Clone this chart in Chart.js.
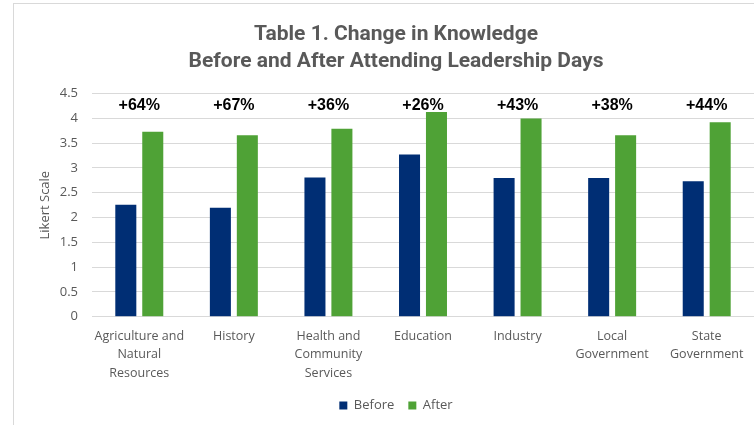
<!DOCTYPE html>
<html>
<head>
<meta charset="utf-8">
<script src="https://cdn.jsdelivr.net/npm/chart.js@4/dist/chart.umd.min.js"></script>
<style>
    body { margin: 0; background: #fff; overflow: hidden; }
    #wrap { position: relative; width: 754px; height: 425px; overflow: hidden; }
    #frame {
        position: absolute; left: 13px; top: 3px; right: -2px; bottom: -2px;
        border-left: 1px solid #d9d9d9; border-top: 1px solid #d9d9d9;
        pointer-events: none;
    }
</style>
</head>
<body>
<div id="wrap">
    <!-- the original chart runs past the right edge, so the canvas is wider than the view -->
    <canvas id="myChart" width="792" height="425"></canvas>
    <div id="frame"></div>
</div>
<script>
// chart data
const categories = [
    ['Agriculture and', 'Natural', 'Resources'],
    'History',
    ['Health and', 'Community', 'Services'],
    'Education',
    'Industry',
    ['Local', 'Government'],
    ['State', 'Government']
];
const beforeValues = [2.26, 2.20, 2.81, 3.27, 2.80, 2.80, 2.73];
const afterValues = [3.73, 3.66, 3.79, 4.13, 4.00, 3.66, 3.92];
const changeLabels = ['+64%', '+67%', '+36%', '+26%', '+43%', '+38%', '+44%'];
const yTicks = [0, 0.5, 1, 1.5, 2, 2.5, 3, 3.5, 4, 4.5];

const labelFont = "'Open Sans', sans-serif";
const gray = '#595959';

// draws the percent change above each category
const changePlugin = {
    id: 'changeLabels',
    afterDatasetsDraw(chart) {
        const { ctx, scales: { x, y } } = chart;
        ctx.save();
        ctx.font = "bold 16px 'Liberation Sans', Arial, sans-serif";
        ctx.fillStyle = '#000';
        ctx.textAlign = 'center';
        ctx.textBaseline = 'middle';
        changeLabels.forEach((txt, i) => {
            ctx.fillText(txt, x.getPixelForValue(i), y.getPixelForValue(4.25));
        });
        ctx.restore();
    }
};

const ctx = document.getElementById('myChart');

new Chart(ctx, {
    type: 'bar',
    data: {
        labels: categories,
        datasets: [{
            label: 'Before',
            data: beforeValues,
            backgroundColor: '#002E74',
            categoryPercentage: 0.57,
            barPercentage: 0.78
        }, {
            label: 'After',
            data: afterValues,
            backgroundColor: '#4FA236',
            categoryPercentage: 0.57,
            barPercentage: 0.78
        }]
    },
    options: {
        responsive: false,
        animation: false,
        layout: {
            padding: { left: 0, right: 0, top: 0, bottom: 3 }
        },
        scales: {
            x: {
                grid: { display: false },
                border: { color: '#d9d9d9' },
                ticks: {
                    color: gray,
                    font: { family: labelFont, size: 12.5, lineHeight: 1.5 },
                    maxRotation: 0,
                    autoSkip: false,
                    padding: 2
                }
            },
            y: {
                min: 0,
                max: 4.5,
                afterBuildTicks(axis) {
                    axis.ticks = yTicks.map(v => ({ value: v }));
                },
                afterFit(axis) {
                    axis.width = 92;
                },
                grid: { color: '#d9d9d9', drawTicks: false },
                border: { display: false },
                ticks: {
                    color: gray,
                    font: { family: labelFont, size: 13 },
                    padding: 14,
                    callback: v => String(v)
                },
                title: {
                    display: true,
                    text: 'Likert Scale',
                    color: gray,
                    font: { family: labelFont, size: 13 },
                    padding: { top: 37, bottom: 4 }
                }
            },
            // empty spacer on the right so the plot ends at the view edge
            spacer: {
                type: 'linear',
                position: 'right',
                grid: { display: false },
                border: { display: false },
                ticks: { display: false },
                afterFit(axis) {
                    axis.width = 38;
                }
            }
        },
        plugins: {
            title: {
                display: true,
                text: ['Table 1. Change in Knowledge', 'Before and After Attending Leadership Days'],
                color: gray,
                font: { family: "'Roboto', sans-serif", size: 21, weight: 'bold', lineHeight: 1.3 },
                padding: { top: 21, bottom: 18 }
            },
            legend: {
                position: 'bottom',
                labels: {
                    color: gray,
                    font: { family: labelFont, size: 13 },
                    boxWidth: 8,
                    boxHeight: 8,
                    padding: 14
                }
            },
            tooltip: { enabled: false }
        }
    },
    plugins: [changePlugin]
});
</script>
</body>
</html>
